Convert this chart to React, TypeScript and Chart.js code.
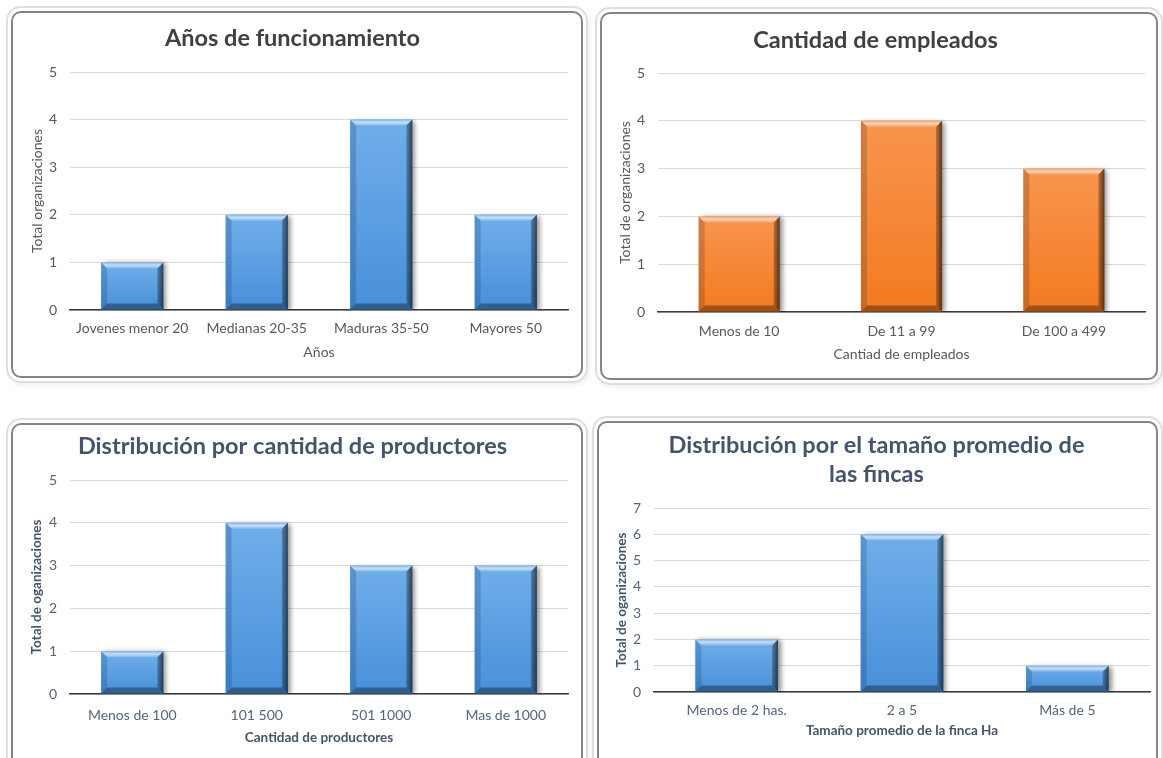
import React, { useEffect, useRef } from "react";
import { Chart, registerables } from "chart.js";

Chart.register(...registerables);

// Años de funcionamiento
const aniosCategorias = ["Jovenes menor 20", "Medianas 20-35", "Maduras 35-50", "Mayores 50"];
const aniosTotales = [1, 2, 4, 2];

// Cantidad de empleados
const empleadosCategorias = ["Menos de 10", "De 11 a 99", "De 100 a 499"];
const empleadosTotales = [2, 4, 3];

// Distribución por cantidad de productores
const productoresCategorias = ["Menos de 100", "101 500", "501 1000", "Mas de 1000"];
const productoresTotales = [1, 4, 3, 3];

// Distribución por el tamaño promedio de las fincas
const fincasCategorias = ["Menos de 2 has.", "2 a 5", "Más de 5"];
const fincasTotales = [2, 6, 1];

// Máximos de los ejes Y
const maximoCinco = 5;
const maximoSiete = 7;

const FUENTE = "Lato, 'Open Sans', 'DejaVu Sans', sans-serif";

type Tema = {
  titulo: string;
  texto: string;
  ejes: string;
  ejesNegrita: boolean;
};

const temaGris: Tema = { titulo: "#404040", texto: "#595959", ejes: "#595959", ejesNegrita: false };
const temaAzul: Tema = { titulo: "#44546A", texto: "#56657A", ejes: "#44546A", ejesNegrita: true };

type Relleno = { arriba: string; abajo: string };
const rellenoAzul: Relleno = { arriba: "#70AEEA", abajo: "#4890DA" };
const rellenoNaranja: Relleno = { arriba: "#F9954E", abajo: "#F27A20" };

type Panel = {
  titulo: string[];
  categorias: string[];
  valores: number[];
  maximo: number;
  tituloY: string;
  tituloX: string;
  tema: Tema;
  relleno: Relleno;
  // caja del marco (coordenadas de página)
  marco: { x: number; y: number; w: number; h: number };
  // área de trazado (coordenadas de página)
  area: { left: number; right: number; top: number; bottom: number };
  tituloCentroY: number;
  tituloInterlinea: number;
  ejeYCentroX: number;
  etiquetasCentroY: number;
  ejeXCentroY: number;
};

const paneles: Panel[] = [
  {
    titulo: ["Años de funcionamiento"],
    categorias: aniosCategorias,
    valores: aniosTotales,
    maximo: maximoCinco,
    tituloY: "Total organizaciones",
    tituloX: "Años",
    tema: temaGris,
    relleno: rellenoAzul,
    marco: { x: 11, y: 11, w: 572, h: 367 },
    area: { left: 70, right: 568, top: 72, bottom: 310 },
    tituloCentroY: 38,
    tituloInterlinea: 28,
    ejeYCentroX: 37,
    etiquetasCentroY: 329,
    ejeXCentroY: 352,
  },
  {
    titulo: ["Cantidad de empleados"],
    categorias: empleadosCategorias,
    valores: empleadosTotales,
    maximo: maximoCinco,
    tituloY: "Total de organizaciones",
    tituloX: "Cantiad de empleados",
    tema: temaGris,
    relleno: rellenoNaranja,
    marco: { x: 600, y: 12, w: 558, h: 368 },
    area: { left: 658, right: 1145, top: 73, bottom: 312 },
    tituloCentroY: 40,
    tituloInterlinea: 28,
    ejeYCentroX: 625,
    etiquetasCentroY: 332,
    ejeXCentroY: 354,
  },
  {
    titulo: ["Distribución por cantidad de productores"],
    categorias: productoresCategorias,
    valores: productoresTotales,
    maximo: maximoCinco,
    tituloY: "Total de oganizaciones",
    tituloX: "Cantidad de productores",
    tema: temaAzul,
    relleno: rellenoAzul,
    marco: { x: 11, y: 423, w: 572, h: 345 },
    area: { left: 70, right: 568, top: 480, bottom: 694 },
    tituloCentroY: 446,
    tituloInterlinea: 28,
    ejeYCentroX: 37,
    etiquetasCentroY: 716,
    ejeXCentroY: 738,
  },
  {
    titulo: ["Distribución por el tamaño promedio de", "las fincas"],
    categorias: fincasCategorias,
    valores: fincasTotales,
    maximo: maximoSiete,
    tituloY: "Total de oganizaciones",
    tituloX: "Tamaño promedio de la finca Ha",
    tema: temaAzul,
    relleno: rellenoAzul,
    marco: { x: 597, y: 421, w: 561, h: 347 },
    area: { left: 654, right: 1150, top: 508, bottom: 692 },
    tituloCentroY: 445,
    tituloInterlinea: 29,
    ejeYCentroX: 622,
    etiquetasCentroY: 711,
    ejeXCentroY: 731,
  },
];

const BORDE = 2;

function poligono(ctx: CanvasRenderingContext2D, pts: number[][], color: any) {
  ctx.beginPath();
  ctx.moveTo(pts[0][0], pts[0][1]);
  for (let i = 1; i < pts.length; i++) ctx.lineTo(pts[i][0], pts[i][1]);
  ctx.closePath();
  ctx.fillStyle = color;
  ctx.fill();
}

// Sombra bajo las barras y biselado encima de cada una
const biselPlugin = {
  id: "bisel",
  beforeDatasetsDraw(chart: any) {
    const ctx = chart.ctx;
    ctx.save();
    ctx.shadowColor = "rgba(0,0,0,0.45)";
    ctx.shadowBlur = 5;
    ctx.shadowOffsetX = 3;
    ctx.shadowOffsetY = 1;
  },
  afterDatasetsDraw(chart: any) {
    const ctx: CanvasRenderingContext2D = chart.ctx;
    ctx.restore();
    const meta = chart.getDatasetMeta(0);
    meta.data.forEach((barra: any) => {
      const { x, y, base, width } = barra.getProps(["x", "y", "base", "width"], true);
      const L = x - width / 2;
      const R = x + width / 2;
      const T = y;
      const B = base;
      const b = Math.min(6, (B - T) / 3);
      ctx.save();
      // franja superior clara
      const gSup = ctx.createLinearGradient(0, T, 0, T + b);
      gSup.addColorStop(0, "rgba(255,255,255,0.1)");
      gSup.addColorStop(0.45, "rgba(255,255,255,0.6)");
      gSup.addColorStop(1, "rgba(255,255,255,0.15)");
      poligono(ctx, [[L, T], [R, T], [R - b, T + b], [L + b, T + b]], gSup);
      // lado izquierdo
      poligono(ctx, [[L, T], [L + b, T + b], [L + b, B - b], [L, B]], "rgba(20,40,70,0.2)");
      // lado derecho oscuro
      const gDer = ctx.createLinearGradient(R - b, 0, R, 0);
      gDer.addColorStop(0, "rgba(0,0,0,0.25)");
      gDer.addColorStop(1, "rgba(0,0,0,0.62)");
      poligono(ctx, [[R, T], [R, B], [R - b, B - b], [R - b, T + b]], gDer);
      // franja inferior
      poligono(ctx, [[L, B], [R, B], [R - b, B - b], [L + b, B - b]], "rgba(0,0,0,0.34)");
      ctx.restore();
    });
  },
};

function GraficoPanel({ panel }: { panel: Panel }) {
  const ref = useRef<HTMLCanvasElement | null>(null);

  useEffect(() => {
    const canvas = ref.current;
    if (!canvas) return;
    const cl = panel.marco.x + BORDE;
    const ct = panel.marco.y + BORDE;
    const cw = panel.marco.w - 2 * BORDE;
    const ch = panel.marco.h - 2 * BORDE;

    const tamTitulo = 23.5;
    const tamTexto = 14;
    const tamEjes = panel.tema.ejesNegrita ? 13.5 : 14;
    const lhEjes = tamEjes * 1.2;
    const lhTitulo = panel.tituloInterlinea;

    const izquierda = 4;
    const abajo = 2;
    const anchoEjeY = panel.area.left - cl - izquierda;
    const derecha = cw - (panel.area.right - cl);
    const tituloArriba = panel.tituloCentroY - ct - lhTitulo / 2;
    const tituloAbajo = panel.area.top - ct - tituloArriba - lhTitulo * panel.titulo.length;
    const ejeYRelleno = panel.ejeYCentroX - cl - izquierda - lhEjes / 2;
    const altoEjeX = ch - abajo - (panel.area.bottom - ct);
    const ejeXRelleno = ch - abajo - lhEjes / 2 - (panel.ejeXCentroY - ct);
    const etiquetasRelleno = panel.etiquetasCentroY - panel.area.bottom - 8.5;

    const relleno = panel.relleno;

    const chart = new Chart(canvas, {
      type: "bar",
      data: {
        labels: panel.categorias,
        datasets: [
          {
            data: panel.valores,
            backgroundColor: (c: any) => {
              const ch2 = c.chart;
              const ys = ch2.scales?.y;
              if (!ys || c.raw === undefined) return relleno.abajo;
              const top = ys.getPixelForValue(c.raw);
              const bottom = ys.getPixelForValue(0);
              if (!isFinite(top) || !isFinite(bottom) || top === bottom) return relleno.abajo;
              const g = ch2.ctx.createLinearGradient(0, top, 0, bottom);
              g.addColorStop(0, relleno.arriba);
              g.addColorStop(1, relleno.abajo);
              return g;
            },
            borderWidth: 0,
            categoryPercentage: 1,
            barPercentage: 0.5,
          },
        ],
      },
      options: {
        responsive: false,
        animation: false,
        events: [],
        layout: { padding: { left: izquierda, right: derecha, top: 0, bottom: abajo } },
        plugins: {
          legend: { display: false },
          tooltip: { enabled: false },
          title: {
            display: true,
            text: panel.titulo,
            color: panel.tema.titulo,
            font: { family: FUENTE, size: tamTitulo, weight: "bold", lineHeight: lhTitulo / tamTitulo },
            padding: { top: tituloArriba, bottom: tituloAbajo },
          },
        },
        scales: {
          x: {
            z: 1,
            grid: { display: false, drawTicks: false },
            border: { display: true, color: "#3a3a3a", width: 1.5 },
            ticks: {
              color: panel.tema.texto,
              font: { family: FUENTE, size: tamTexto },
              padding: etiquetasRelleno,
              maxRotation: 0,
              autoSkip: false,
            },
            title: {
              display: true,
              text: panel.tituloX,
              color: panel.tema.ejes,
              font: { family: FUENTE, size: tamEjes, weight: panel.tema.ejesNegrita ? "bold" : "normal" },
              padding: { top: 0, bottom: ejeXRelleno },
            },
            afterFit: (s: any) => {
              s.height = altoEjeX;
            },
          },
          y: {
            min: 0,
            max: panel.maximo,
            grid: { color: "#D9D9D9", lineWidth: 1, drawTicks: false },
            border: { display: false },
            ticks: {
              stepSize: 1,
              color: panel.tema.texto,
              font: { family: FUENTE, size: tamTexto },
              padding: 13,
            },
            title: {
              display: true,
              text: panel.tituloY,
              color: panel.tema.ejes,
              font: { family: FUENTE, size: tamEjes, weight: panel.tema.ejesNegrita ? "bold" : "normal" },
              padding: { top: ejeYRelleno, bottom: 0 },
            },
            afterFit: (s: any) => {
              s.width = anchoEjeY;
            },
          },
        },
      },
      plugins: [biselPlugin],
    } as any);

    return () => {
      chart.destroy();
    };
  }, [panel]);

  const cw = panel.marco.w - 2 * BORDE;
  const ch = panel.marco.h - 2 * BORDE;

  return (
    <div
      style={{
        position: "absolute",
        left: panel.marco.x,
        top: panel.marco.y,
        width: panel.marco.w,
        height: panel.marco.h,
        boxSizing: "border-box",
        border: `${BORDE}px solid #858585`,
        borderRadius: 10,
        background: "#ffffff",
        boxShadow: "0 0 0 3px #ffffff, 0 0 0 5px #dedede, 2px 3px 5px 5px rgba(0,0,0,0.06)",
      }}
    >
      <canvas
        ref={ref}
        width={cw}
        height={ch}
        style={{ position: "absolute", left: 0, top: 0, width: cw, height: ch, borderRadius: 8 }}
      />
    </div>
  );
}

export default function App() {
  return (
    <div
      style={{
        position: "absolute",
        left: 0,
        top: 0,
        width: 1163,
        height: 758,
        overflow: "hidden",
        background: "#ffffff",
      }}
    >
      {paneles.map((p, i) => (
        <GraficoPanel key={i} panel={p} />
      ))}
    </div>
  );
}
